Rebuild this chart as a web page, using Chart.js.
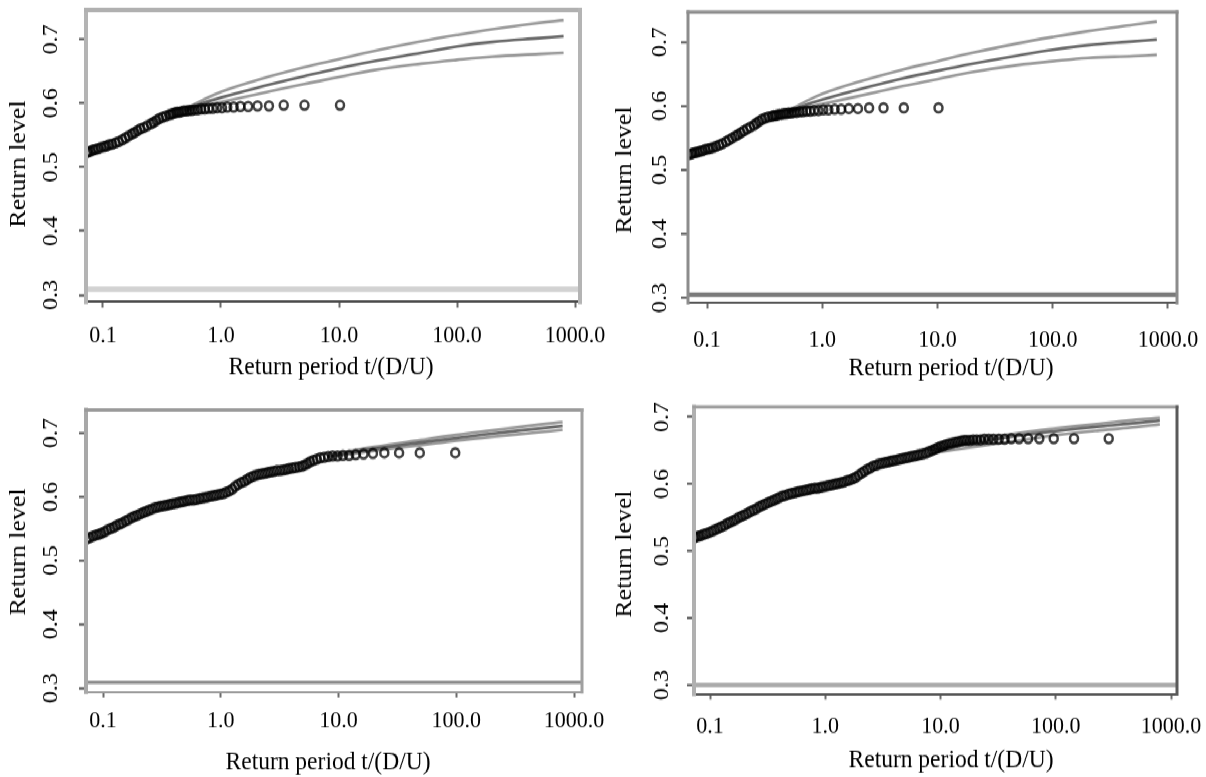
<!DOCTYPE html>
<html>
<head>
<meta charset="utf-8">
<title>Return level plots</title>
<script src="https://cdn.jsdelivr.net/npm/chart.js@4.4.0/dist/chart.umd.min.js"></script>
<style>
  html { overflow: hidden; }
  html, body { margin: 0; padding: 0; background: #fff; }
  body { height: 777px; }
  /* the figure is drawn slightly squat and stretched back to full height */
  #wrap { position: relative; width: 1206px; height: 706px; transform: scaleY(1.1006); transform-origin: 0 0; }
  #wrap canvas { position: absolute; left: 0; top: 0; }
</style>
</head>
<body>
<div id="wrap">
  <canvas id="rlA" width="1206" height="706"></canvas>
  <canvas id="rlB" width="1206" height="706"></canvas>
  <canvas id="rlC" width="1206" height="706"></canvas>
  <canvas id="rlD" width="1206" height="706"></canvas>
</div>
<script>
// axis ticks shared by all four panels
const periodTicks = [0.1, 1, 10, 100, 1000];
const periodLabels = ['0.1', '1.0', '10.0', '100.0', '1000.0'];
const levelTicks = [0.3, 0.4, 0.5, 0.6, 0.7];
const levelLabels = ['0.3', '0.4', '0.5', '0.6', '0.7'];

// panel A (top left): empirical return levels
const periodA = [10.2, 5.1, 3.4, 2.55, 2.04, 1.7, 1.46, 1.28, 1.13, 1.02, 0.927, 0.85, 0.785, 0.729, 0.68, 0.638, 0.6, 0.567, 0.537, 0.51,
  0.486, 0.464, 0.443, 0.425, 0.408, 0.392, 0.378, 0.364, 0.34, 0.319, 0.3, 0.283, 0.268, 0.255, 0.237, 0.222, 0.208, 0.196, 0.185, 0.176,
  0.165, 0.155, 0.146, 0.136, 0.128, 0.12, 0.113, 0.107, 0.102, 0.0962, 0.0911, 0.0864, 0.0823, 0.0785, 0.075, 0.0729];
const levelA = [0.597, 0.597, 0.597, 0.596, 0.596, 0.595, 0.595, 0.594, 0.594, 0.593, 0.593, 0.592, 0.592, 0.591, 0.591, 0.590, 0.590, 0.589, 0.589, 0.588,
  0.588, 0.587, 0.586, 0.586, 0.585, 0.584, 0.583, 0.582, 0.580, 0.578, 0.576, 0.573, 0.570, 0.568, 0.565, 0.562, 0.560, 0.557, 0.554, 0.552,
  0.549, 0.546, 0.543, 0.540, 0.538, 0.536, 0.535, 0.533, 0.532, 0.531, 0.529, 0.528, 0.527, 0.525, 0.524, 0.523];
// fitted return level curve with its confidence bounds
const fitPeriodA = [0.5, 0.7, 1, 2, 5, 10, 20, 50, 100, 200, 500, 800];
const fitA = [0.589, 0.600, 0.609, 0.624, 0.642, 0.655, 0.666, 0.679, 0.689, 0.696, 0.702, 0.705];
const upperA = [0.591, 0.605, 0.618, 0.636, 0.656, 0.669, 0.682, 0.697, 0.707, 0.716, 0.726, 0.730];
const lowerA = [0.587, 0.596, 0.602, 0.614, 0.630, 0.641, 0.652, 0.662, 0.668, 0.673, 0.677, 0.679];
const baseA = 0.309;

// panel B (top right)
const periodB = [10.2, 5.1, 3.4, 2.55, 2.04, 1.7, 1.46, 1.28, 1.13, 1.02, 0.927, 0.85, 0.785, 0.729, 0.68, 0.638, 0.6, 0.567, 0.537, 0.51,
  0.486, 0.464, 0.443, 0.425, 0.408, 0.392, 0.378, 0.364, 0.34, 0.319, 0.3, 0.283, 0.268, 0.255, 0.237, 0.222, 0.208, 0.196, 0.185, 0.176,
  0.165, 0.155, 0.146, 0.136, 0.128, 0.12, 0.113, 0.107, 0.102, 0.0962, 0.0911, 0.0864, 0.0823, 0.0785, 0.075, 0.0729, 0.0689];
const levelB = [0.597, 0.597, 0.597, 0.597, 0.596, 0.596, 0.595, 0.595, 0.594, 0.594, 0.593, 0.593, 0.592, 0.592, 0.591, 0.591, 0.590, 0.590, 0.589, 0.589,
  0.588, 0.588, 0.587, 0.587, 0.586, 0.585, 0.585, 0.584, 0.583, 0.581, 0.579, 0.576, 0.573, 0.570, 0.567, 0.564, 0.561, 0.558, 0.555, 0.553,
  0.550, 0.547, 0.544, 0.541, 0.539, 0.537, 0.535, 0.534, 0.533, 0.532, 0.530, 0.529, 0.528, 0.527, 0.526, 0.525, 0.524];
const fitPeriodB = [0.5, 0.7, 1, 2, 5, 10, 20, 50, 100, 200, 500, 800];
const fitB = [0.590, 0.601, 0.610, 0.625, 0.643, 0.655, 0.666, 0.679, 0.688, 0.695, 0.701, 0.704];
const upperB = [0.592, 0.606, 0.619, 0.637, 0.657, 0.670, 0.683, 0.698, 0.708, 0.717, 0.727, 0.732];
const lowerB = [0.588, 0.597, 0.603, 0.615, 0.631, 0.642, 0.653, 0.664, 0.670, 0.675, 0.678, 0.680];
const baseB = 0.305;

// panel C (bottom left)
const periodC = [98, 49, 32.7, 24.5, 19.6, 16.3, 14.0, 12.3, 10.9, 9.8, 8.9, 8.17, 7.54, 7.0, 6.53, 6.13, 5.76, 5.44, 5.16, 4.9,
  4.6, 4.3, 4.05, 3.8, 3.6, 3.4, 3.2, 3.0, 2.83, 2.67, 2.52, 2.38, 2.24, 2.11, 1.99, 1.88, 1.77, 1.67, 1.58, 1.49,
  1.40, 1.32, 1.25, 1.18, 1.11, 1.05, 0.99, 0.93, 0.88, 0.83, 0.78, 0.74, 0.70, 0.66, 0.62, 0.585, 0.55, 0.52, 0.49, 0.465,
  0.44, 0.415, 0.39, 0.37, 0.35, 0.33, 0.31, 0.293, 0.277, 0.261, 0.246, 0.232, 0.219, 0.207, 0.195, 0.184, 0.174, 0.164, 0.155, 0.146,
  0.138, 0.130, 0.123, 0.116, 0.109, 0.103, 0.097, 0.092, 0.087, 0.082, 0.077, 0.073];
const levelC = [0.669, 0.669, 0.669, 0.669, 0.668, 0.667, 0.666, 0.665, 0.665, 0.664, 0.664, 0.663, 0.662, 0.661, 0.659, 0.657, 0.655, 0.652, 0.650, 0.648,
  0.647, 0.646, 0.645, 0.644, 0.643, 0.642, 0.641, 0.641, 0.640, 0.639, 0.638, 0.637, 0.636, 0.635, 0.634, 0.632, 0.630, 0.627, 0.624, 0.622,
  0.619, 0.616, 0.612, 0.609, 0.607, 0.605, 0.604, 0.603, 0.602, 0.601, 0.600, 0.599, 0.598, 0.597, 0.596, 0.595, 0.595, 0.594, 0.593, 0.592,
  0.591, 0.590, 0.589, 0.588, 0.587, 0.586, 0.585, 0.584, 0.583, 0.581, 0.579, 0.577, 0.575, 0.573, 0.571, 0.569, 0.567, 0.564, 0.562, 0.559,
  0.557, 0.555, 0.552, 0.550, 0.548, 0.545, 0.543, 0.541, 0.540, 0.538, 0.536, 0.534];
const fitPeriodC = [8, 10, 20, 50, 100, 200, 500, 800];
const fitC = [0.663, 0.666, 0.675, 0.685, 0.692, 0.699, 0.707, 0.711];
const upperC = [0.664, 0.668, 0.678, 0.689, 0.697, 0.704, 0.713, 0.717];
const lowerC = [0.662, 0.664, 0.672, 0.681, 0.688, 0.694, 0.701, 0.705];
const baseC = 0.309;

// panel D (bottom right)
const periodD = [288, 144, 96, 72, 57.6, 48, 41.1, 36, 32, 28.8, 26.2, 24, 22.2, 20.6, 19.2, 18, 16.9, 16, 15.1, 14.2,
  13.4, 12.6, 11.9, 11.2, 10.6, 10.0, 9.4, 8.9, 8.4, 7.9, 7.45, 7.0, 6.6, 6.25, 5.9, 5.55, 5.25, 4.95, 4.65, 4.4,
  4.15, 3.9, 3.7, 3.5, 3.3, 3.1, 2.92, 2.76, 2.6, 2.45, 2.31, 2.18, 2.06, 1.94, 1.83, 1.73, 1.63, 1.54, 1.45, 1.37,
  1.29, 1.22, 1.15, 1.08, 1.02, 0.96, 0.91, 0.86, 0.81, 0.76, 0.72, 0.68, 0.64, 0.6, 0.57, 0.54, 0.51, 0.48, 0.45, 0.425,
  0.4, 0.378, 0.357, 0.337, 0.318, 0.3, 0.283, 0.267, 0.252, 0.238, 0.224, 0.211, 0.199, 0.188, 0.177, 0.167, 0.158, 0.149, 0.141, 0.133,
  0.125, 0.118, 0.111, 0.105, 0.099, 0.093, 0.088, 0.083, 0.079, 0.075, 0.073];
const levelD = [0.668, 0.668, 0.668, 0.668, 0.668, 0.668, 0.668, 0.667, 0.667, 0.667, 0.667, 0.667, 0.666, 0.666, 0.666, 0.665, 0.665, 0.665, 0.664, 0.663,
  0.662, 0.661, 0.660, 0.659, 0.657, 0.656, 0.654, 0.652, 0.650, 0.648, 0.646, 0.645, 0.644, 0.643, 0.642, 0.641, 0.640, 0.639, 0.638, 0.637,
  0.636, 0.635, 0.634, 0.633, 0.632, 0.631, 0.630, 0.628, 0.627, 0.624, 0.622, 0.619, 0.616, 0.613, 0.610, 0.608, 0.606, 0.605, 0.603, 0.602,
  0.601, 0.600, 0.599, 0.598, 0.597, 0.596, 0.595, 0.594, 0.594, 0.593, 0.592, 0.591, 0.590, 0.589, 0.588, 0.587, 0.586, 0.585, 0.583, 0.582,
  0.580, 0.578, 0.576, 0.574, 0.572, 0.570, 0.568, 0.566, 0.563, 0.561, 0.559, 0.556, 0.554, 0.552, 0.550, 0.547, 0.545, 0.543, 0.541, 0.538,
  0.536, 0.534, 0.532, 0.530, 0.528, 0.526, 0.525, 0.523, 0.522, 0.521, 0.520];
const fitPeriodD = [8, 10, 17, 30, 63, 100, 240, 500, 800];
const fitD = [0.650, 0.653, 0.661, 0.667, 0.675, 0.679, 0.686, 0.691, 0.695];
const upperD = [0.653, 0.657, 0.665, 0.671, 0.679, 0.683, 0.690, 0.696, 0.699];
const lowerD = [0.645, 0.648, 0.654, 0.660, 0.668, 0.673, 0.680, 0.685, 0.689];
const baseD = 0.300;

const SERIF = "'Liberation Serif', 'Times New Roman', serif";
const SY = 777 / 706;       // vertical stretch applied by the wrapper
const CW = 1206, CH = 706;  // canvas size
const Y_AXIS_W = 80, X_AXIS_H = 40;

function pairs(xs, ys) {
  return xs.map((x, i) => ({ x: x, y: ys[i] }));
}

// grey plot frame (left, top, right) drawn over the data
const framePlugin = {
  id: 'frame',
  afterDatasetsDraw(chart, args, opts) {
    const { ctx, chartArea: a } = chart;
    ctx.save();
    ctx.lineCap = 'square';
    const edge = (x1, y1, x2, y2, s) => {
      ctx.strokeStyle = s.color;
      ctx.lineWidth = s.width;
      ctx.beginPath();
      ctx.moveTo(x1, y1);
      ctx.lineTo(x2, y2);
      ctx.stroke();
    };
    edge(a.left, a.bottom, a.left, a.top, opts.left);
    edge(a.left, a.top, a.right, a.top, opts.top);
    edge(a.right, a.top, a.right, a.bottom, opts.right);
    ctx.restore();
  }
};

// axis titles, R style
const titlePlugin = {
  id: 'axisTitles',
  afterDraw(chart, args, opts) {
    const ctx = chart.ctx;
    ctx.save();
    ctx.fillStyle = '#000';
    ctx.font = opts.size + 'px ' + SERIF;
    ctx.textAlign = 'center';
    ctx.textBaseline = 'middle';
    ctx.fillText(opts.x.text, opts.x.cx, opts.x.cy / SY);
    ctx.translate(opts.y.cx, opts.y.cy / SY);
    ctx.rotate(-Math.PI / 2);
    ctx.fillText(opts.y.text, 0, 0);
    ctx.restore();
  }
};

function drawPanel(p) {
  const a = p.area;
  const top = a.top / SY, bottom = a.bottom / SY;
  new Chart(document.getElementById(p.id), {
    type: 'scatter',
    data: {
      datasets: [
        {
          data: pairs(p.period, p.level),
          pointRadius: 4,
          pointBorderWidth: 2.5,
          pointBackgroundColor: 'rgba(0,0,0,0)',
          pointBorderColor: 'rgba(0,0,0,0.75)',
          showLine: false
        },
        {
          data: pairs(p.fitPeriod, p.upper),
          showLine: true, pointRadius: 0, borderWidth: 2.6,
          borderColor: 'rgba(70,70,70,0.55)', tension: 0.4
        },
        {
          data: pairs(p.fitPeriod, p.fit),
          showLine: true, pointRadius: 0, borderWidth: 2.6,
          borderColor: 'rgba(40,40,40,0.7)', tension: 0.4
        },
        {
          data: pairs(p.fitPeriod, p.lower),
          showLine: true, pointRadius: 0, borderWidth: 2.6,
          borderColor: 'rgba(70,70,70,0.55)', tension: 0.4
        },
        {
          data: [{ x: p.xMin, y: p.base }, { x: p.xMax, y: p.base }],
          showLine: true, pointRadius: 0, borderWidth: p.baseWidth,
          borderColor: p.baseColor
        }
      ]
    },
    options: {
      responsive: false,
      animation: false,
      devicePixelRatio: 1,
      events: [],
      layout: {
        padding: {
          left: a.left - Y_AXIS_W,
          top: top,
          right: CW - a.right,
          bottom: CH - bottom - X_AXIS_H
        }
      },
      plugins: {
        legend: { display: false },
        tooltip: { enabled: false },
        frame: p.frame,
        axisTitles: {
          size: 23.5,
          x: { text: 'Return period t/(D/U)', cx: p.xTitle[0], cy: p.xTitle[1] },
          y: { text: 'Return level', cx: p.yTitle[0], cy: p.yTitle[1] }
        }
      },
      scales: {
        x: {
          type: 'logarithmic',
          position: 'bottom',
          min: p.xMin,
          max: p.xMax,
          afterBuildTicks: s => { s.ticks = periodTicks.map(v => ({ value: v })); },
          afterFit: s => {
            s.height = X_AXIS_H;
            s.paddingLeft = 0;
            s.paddingRight = 0;
          },
          ticks: {
            callback: (v, i) => periodLabels[i],
            autoSkip: false, maxRotation: 0, minRotation: 0,
            padding: p.xPad, color: '#000',
            font: { family: SERIF, size: 22 }
          },
          grid: {
            drawOnChartArea: false, drawTicks: true,
            tickLength: 5, tickWidth: 2, tickColor: '#6a6a6a'
          },
          border: { display: true, color: p.axisColor, width: 2 }
        },
        y: {
          type: 'linear',
          min: p.yMin,
          max: p.yMax,
          afterBuildTicks: s => { s.ticks = levelTicks.map(v => ({ value: v })); },
          afterFit: s => {
            s.width = Y_AXIS_W;
            s.paddingTop = 0;
            s.paddingBottom = 0;
          },
          ticks: {
            callback: (v, i) => levelLabels[i],
            autoSkip: false, minRotation: 90, maxRotation: 90,
            crossAlign: 'center', padding: p.yPad, color: '#000',
            font: { family: SERIF, size: 22 }
          },
          grid: {
            drawOnChartArea: false, drawTicks: true,
            tickLength: 7, tickWidth: 2, tickColor: '#555'
          },
          border: { display: false }
        }
      }
    },
    plugins: [framePlugin, titlePlugin]
  });
}

const panels = [
  {
    id: 'rlA', period: periodA, level: levelA, fitPeriod: fitPeriodA, fit: fitA, upper: upperA, lower: lowerA, base: baseA,
    xMin: 0.0718, xMax: 1102, yMin: 0.289, yMax: 0.746,
    area: { left: 86, top: 10, right: 580, bottom: 302 },
    xPad: 13, yPad: 14, xTitle: [331, 367], yTitle: [19, 164],
    baseColor: '#d2d2d2', baseWidth: 5, axisColor: '#4a4a4a',
    frame: { left: { color: '#b4b4b4', width: 4 }, top: { color: '#b0b0b0', width: 4 }, right: { color: '#b4b4b4', width: 4 } }
  },
  {
    id: 'rlB', period: periodB, level: levelB, fitPeriod: fitPeriodB, fit: fitB, upper: upperB, lower: lowerB, base: baseB,
    xMin: 0.0684, xMax: 1197, yMin: 0.292, yMax: 0.747,
    area: { left: 688, top: 12, right: 1177, bottom: 303 },
    xPad: 15.5, yPad: 7, xTitle: [951, 368], yTitle: [625, 170],
    baseColor: '#7a7a7a', baseWidth: 4, axisColor: '#555555',
    frame: { left: { color: '#8c8c8c', width: 3 }, top: { color: '#8c8c8c', width: 3 }, right: { color: '#8c8c8c', width: 3 } }
  },
  {
    id: 'rlC', period: periodC, level: levelC, fitPeriod: fitPeriodC, fit: fitC, upper: upperC, lower: lowerC, base: baseC,
    xMin: 0.0717, xMax: 1169, yMin: 0.294, yMax: 0.736,
    area: { left: 86, top: 410, right: 582, bottom: 692 },
    xPad: 8, yPad: 14, xTitle: [328, 762], yTitle: [19, 552],
    baseColor: '#8a8a8a', baseWidth: 3, axisColor: '#9a9a9a',
    frame: { left: { color: '#a8a8a8', width: 4 }, top: { color: '#9a9a9a', width: 3 }, right: { color: '#a0a0a0', width: 3 } }
  },
  {
    id: 'rlD', period: periodD, level: levelD, fitPeriod: fitPeriodD, fit: fitD, upper: upperD, lower: lowerD, base: baseD,
    xMin: 0.0726, xMax: 1127, yMin: 0.2866, yMax: 0.715,
    area: { left: 694, top: 407, right: 1177, bottom: 694 },
    xPad: 11, yPad: 11, xTitle: [951, 760], yTitle: [625, 554],
    baseColor: '#aaaaaa', baseWidth: 4, axisColor: '#555555',
    frame: { left: { color: '#b0b0b0', width: 4 }, top: { color: '#9c9c9c', width: 3 }, right: { color: '#5a5a5a', width: 3 } }
  }
];

panels.forEach(drawPanel);
</script>
</body>
</html>
